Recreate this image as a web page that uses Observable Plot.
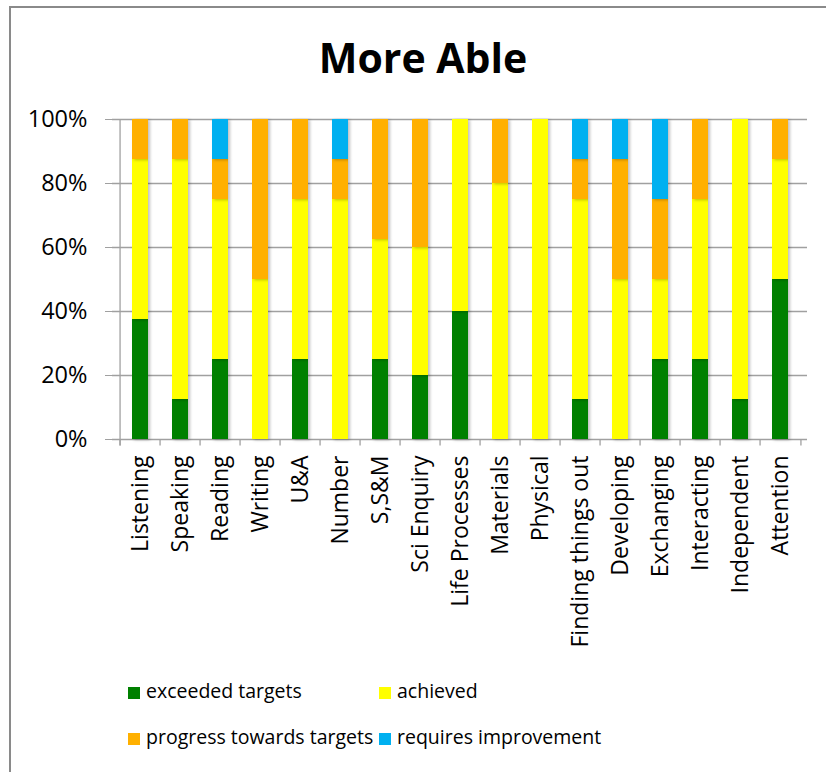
<!DOCTYPE html>
<html>
<head>
<meta charset="utf-8">
<script src="https://cdn.jsdelivr.net/npm/d3@7"></script>
<script src="https://cdn.jsdelivr.net/npm/@observablehq/plot@0.6"></script>
<style>
  html, body { margin: 0; padding: 0; background: #fff; }
  body { width: 826px; height: 772px; position: relative; overflow: hidden; font-family: "Open Sans", sans-serif; }
  #border { position: absolute; left: 9px; top: 6px; width: 900px; height: 900px; border-left: 2px solid #8a8a8a; border-top: 2px solid #8a8a8a; box-sizing: border-box; }
  #title { position: absolute; left: 0; width: 846px; top: 37px; text-align: center; font-weight: 700; font-size: 41px; line-height: 41px; color: #000; }
  #chart { position: absolute; left: 0; top: 90px; }
  #chart g[aria-label="bar"] rect { filter: drop-shadow(2px 1px 1.5px rgba(0,0,0,0.25)); }
  #legend { position: absolute; left: 128px; top: 681px; display: grid; grid-template-columns: 251px auto; row-gap: 26px; font-size: 19.5px; line-height: 20px; color: #000; }
  #legend .item { display: flex; align-items: center; white-space: nowrap; }
  #legend .sw { width: 12px; height: 12px; margin-right: 6px; position: relative; top: 2px; }
</style>
</head>
<body>
<div id="border"></div>
<div id="title">More Able</div>
<div id="chart"></div>
<div id="legend"></div>
<script>
const categories = ["Listening","Speaking","Reading","Writing","U&A","Number","S,S&M","Sci Enquiry","Life Processes","Materials","Physical","Finding things out","Developing","Exchanging","Interacting","Independent","Attention"];
const seriesNames = ["exceeded targets","achieved","progress towards targets","requires improvement"];
const seriesColors = ["#008000","#FFFF00","#FFB000","#00B0F0"];
const exceeded = [37.5,12.5,25,0,25,0,25,20,40,0,0,12.5,0,25,25,12.5,50];
const achieved = [50,75,50,50,50,75,37.5,40,60,80,100,62.5,50,25,50,87.5,37.5];
const progress = [12.5,12.5,12.5,50,25,12.5,37.5,40,0,20,0,12.5,37.5,25,25,0,12.5];
const requires = [0,0,12.5,0,0,12.5,0,0,0,0,0,12.5,12.5,25,0,0,0];
const yTicks = [0,20,40,60,80,100];

const seriesValues = [exceeded, achieved, progress, requires];
const data = [];
seriesValues.forEach((vals, s) => {
  vals.forEach((v, i) => data.push({category: categories[i], series: seriesNames[s], value: v}));
});

const W = 826, H = 580, mL = 112, mR = 19, mT = 29, mB = 231;
const step = (W - mL - mR) / categories.length;
const gray = "#a0a0a0";

const chart = Plot.plot({
  width: W, height: H,
  marginLeft: mL, marginRight: mR, marginTop: mT, marginBottom: mB,
  style: {fontFamily: "Open Sans, sans-serif", fontSize: "23px", color: "#000", background: "transparent", overflow: "visible"},
  x: {domain: categories, paddingInner: 0.61, paddingOuter: 0.305, label: null},
  y: {domain: [0, 100], label: null},
  color: {domain: seriesNames, range: seriesColors},
  marks: [
    Plot.gridY(yTicks, {stroke: gray, strokeOpacity: 1, strokeWidth: 1.3}),
    Plot.barY(data, {x: "category", y: "value", fill: "series"}),
    Plot.ruleX([categories[0]], {dx: -step / 2, y1: -2, y2: 100, stroke: gray, strokeWidth: 1.3}),
    Plot.ruleX(categories, {dx: -step / 2, y1: 0, y2: -2, stroke: gray, strokeWidth: 1.3}),
    Plot.ruleX([categories[categories.length - 1]], {dx: step / 2, y1: 0, y2: -2, stroke: gray, strokeWidth: 1.3}),
    Plot.axisY(yTicks, {tickSize: 7, tickPadding: 18, stroke: gray, fill: "#000", tickFormat: d => d + "%", fontSize: 23.5, label: null}),
    Plot.axisX({tickSize: 0, tickPadding: 16, tickRotate: -90, fill: "#000", fontSize: 23, label: null})
  ]
});
document.getElementById("chart").appendChild(chart);

const legend = document.getElementById("legend");
const legendOrder = [0, 1, 2, 3];
legendOrder.forEach(i => {
  const it = document.createElement("div");
  it.className = "item";
  const sw = document.createElement("span");
  sw.className = "sw";
  sw.style.background = seriesColors[i];
  const tx = document.createElement("span");
  tx.textContent = seriesNames[i];
  it.appendChild(sw); it.appendChild(tx);
  legend.appendChild(it);
});
</script>
</body>
</html>
